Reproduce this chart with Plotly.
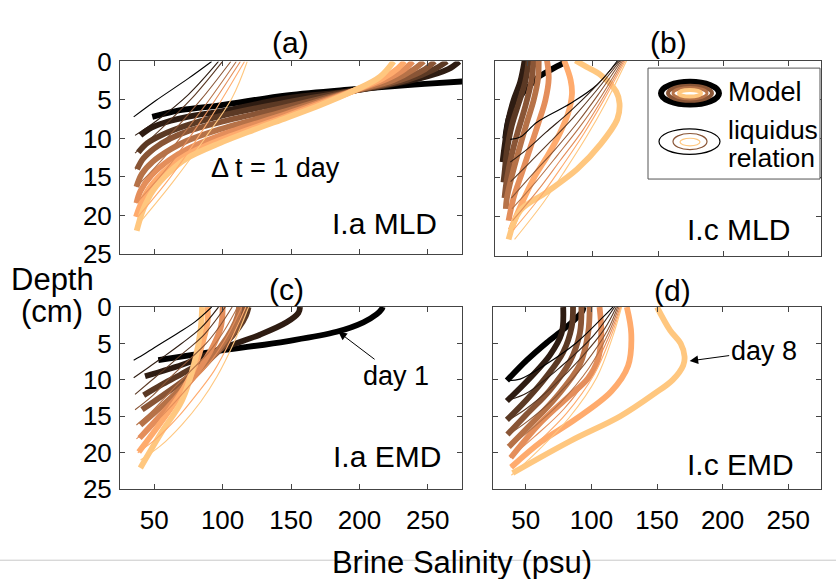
import plotly.graph_objects as go

# Brine salinity (psu) vs depth (cm) profiles, days 1..8
DAYS = [1, 2, 3, 4, 5, 6, 7, 8]
COPPER = ["#000000", "#2E1C12", "#5B3924", "#895536",
          "#B67248", "#E48E5B", "#FFAB6D", "#FFC77F"]

# ---- (a) I.a MLD ----
a_model_S = [
    [48.6, 70, 98, 147, 196, 240, 275, 290],
    [40, 48, 62, 80, 98, 147, 196, 244, 265, 273],
    [38.4, 45, 55, 74, 98, 147, 196, 235, 255, 264],
    [37.5, 42, 50, 62, 74, 98, 147, 196, 230, 248, 255],
    [37, 41, 49, 62, 74, 98, 147, 196, 225, 240, 247],
    [37, 40, 48, 61, 74, 98, 147, 196, 220, 233, 239],
    [36.7, 40, 47, 61, 74, 98, 147, 196, 217, 228, 233],
    [37.2, 42, 49.4, 61.5, 73.7, 98, 122.5, 147, 171, 196, 215, 225],
]
a_model_d = [
    [7.2, 6.3, 5.7, 4.4, 3.6, 3.0, 2.6, 2.4],
    [9.6, 8.6, 7.7, 7.0, 6.5, 4.8, 3.8, 2.2, 1.0, 0],
    [11.8, 10.6, 9.6, 8.3, 7.1, 5.3, 3.8, 2.4, 1.0, 0],
    [14.0, 12.6, 11.3, 10.0, 9.1, 7.9, 5.9, 3.8, 2.4, 1.0, 0],
    [16.3, 14.6, 13.0, 11.4, 10.3, 8.8, 6.4, 3.8, 2.4, 1.0, 0],
    [18.4, 16.8, 14.8, 12.8, 11.4, 9.6, 6.8, 3.8, 2.3, 1.0, 0],
    [20.2, 18.6, 16.3, 13.7, 12.1, 10.2, 7.1, 3.8, 2.2, 0.9, 0],
    [22.0, 19.2, 16.7, 14.3, 12.6, 10.6, 8.9, 7.3, 5.7, 3.8, 2.0, 0],
]
a_liq_S = [
    [35, 51, 75, 92],
    [36, 51, 75, 97],
    [36, 56, 80, 100],
    [36, 58, 84, 106],
    [37, 60, 86, 110],
    [37, 61, 87, 113],
    [38, 62, 87, 116],
    [41, 63, 87, 107, 118],
]
a_liq_d = [
    [7.2, 5.1, 2.2, 0],
    [9.6, 7.8, 4.3, 0],
    [11.9, 8.6, 4.3, 0],
    [14.0, 10.2, 5.0, 0],
    [16.3, 11.9, 6.0, 0],
    [18.4, 13.5, 7.0, 0],
    [20.2, 15.0, 8.5, 0],
    [20.6, 15.8, 10.0, 4.7, 0],
]

# ---- (b) I.c MLD ----
b_model_S = [
    [32.8, 35.4, 39.2, 45.6, 53.3, 58.5, 68.7, 77.7],
    [30.8, 32.8, 35.4, 39.2, 44.4, 47.7],
    [31.5, 32.3, 34.1, 37.9, 43.1, 48.2, 50.8],
    [32.3, 34.1, 37.9, 43.1, 48.2, 52.8, 54.6],
    [33.3, 34.1, 37.9, 43.1, 49.5, 54.6, 58, 58.5],
    [35.4, 39.2, 45.6, 52, 58.5, 63.6, 66.2, 64.9],
    [37, 45, 55, 66, 75, 81, 84, 83, 78],
    [35.4, 44.4, 65, 88, 106, 118.8, 120.5, 118, 106, 95, 86.7],
]
b_model_d = [
    [10.0, 7.5, 5.9, 4.3, 2.9, 2.1, 1.1, 0.3],
    [13.0, 10.4, 7.5, 5.1, 2.7, 0],
    [15.6, 14.4, 11.6, 8.3, 5.5, 2.7, 0],
    [17.6, 15.2, 12.0, 8.75, 5.9, 2.7, 0],
    [19.0, 17.6, 14.8, 11.6, 7.9, 5.1, 2.3, 0],
    [20.5, 17.6, 14.4, 11.2, 7.9, 5.1, 2.3, 0],
    [21.7, 18.5, 15.0, 12.0, 9.2, 6.8, 4.3, 2.5, 0],
    [22.9, 19.2, 16.8, 13.9, 10.7, 7.5, 5.5, 4.0, 1.85, 0.8, 0],
]
b_liq_S = [
    [36.7, 44.4, 57.2, 82.8, 103.3, 119],
    [36.7, 50, 64, 82, 100, 120],
    [37, 52, 68, 85, 102, 121],
    [37.5, 54, 71, 88, 104, 122],
    [38, 56, 73, 90, 106, 123],
    [38.5, 58, 75, 92, 107, 124],
    [39, 60, 77, 93, 108, 125],
    [40, 62, 79, 95, 110, 126],
]
b_liq_d = [
    [10.1, 9.8, 7.9, 5.5, 3.1, 0],
    [13.0, 11.3, 9.2, 6.6, 3.7, 0],
    [15.5, 13.0, 10.3, 7.3, 4.0, 0],
    [17.6, 14.5, 11.4, 8.0, 4.4, 0],
    [19.0, 15.6, 12.1, 8.5, 4.7, 0],
    [20.5, 16.6, 12.8, 9.0, 5.0, 0],
    [21.7, 17.4, 13.4, 9.4, 5.2, 0],
    [22.9, 18.2, 14.0, 9.8, 5.4, 0],
]

# ---- (c) I.a EMD ----
c_model_S = [
    [53, 98.1, 146.8, 183.4, 202.9, 212.6, 216.3, 217],
    [43.3, 73.7, 100.5, 127.3, 146.8, 155.4, 156.6],
    [42.3, 55, 70, 87, 102, 112, 117, 119],
    [41.1, 55, 70, 85, 100, 110, 115, 116],
    [39.9, 55, 70, 85, 98, 107, 111, 112],
    [39.3, 55, 70, 84, 94, 99, 100],
    [38.7, 55, 70, 80, 86, 89, 89],
    [39.9, 55.7, 70.4, 80.1, 84, 85],
]
c_model_d = [
    [7.3, 6.0, 4.7, 3.4, 2.1, 1.0, 0.3, 0],
    [9.5, 7.7, 5.6, 3.8, 2.1, 0.8, 0],
    [12.1, 10.7, 9.2, 7.3, 5.0, 2.8, 1.2, 0],
    [14.1, 12.3, 10.3, 8.1, 5.5, 3.0, 1.2, 0],
    [16.2, 13.7, 11.1, 8.4, 5.6, 3.0, 1.2, 0],
    [18.0, 14.8, 11.6, 8.2, 5.0, 2.5, 0],
    [19.9, 15.8, 11.7, 8.0, 4.5, 2.0, 0],
    [22.1, 17.1, 12.8, 7.1, 3.0, 0],
]
c_liq_S = [
    [35, 44, 55, 68, 80, 92],
    [35, 45, 57, 70, 84, 97],
    [36, 46, 58, 72, 86, 102],
    [36, 48, 60, 74, 88, 98, 107],
    [37, 49, 62, 76, 90, 101, 111],
    [37, 50, 64, 78, 92, 104, 114],
    [38, 52, 67, 81, 94, 106, 117],
    [40, 55, 70, 84, 96, 108, 119],
]
c_liq_d = [
    [7.3, 6.3, 5.0, 3.5, 2.0, 0],
    [9.7, 8.4, 6.8, 5.0, 2.9, 0],
    [12.0, 10.4, 8.5, 6.2, 3.9, 0],
    [14.1, 12.3, 10.0, 7.5, 5.0, 2.6, 0],
    [16.2, 14.2, 11.6, 8.9, 6.2, 3.3, 0],
    [18.1, 16.0, 13.3, 10.3, 7.3, 3.8, 0],
    [20.0, 18.0, 15.2, 12.0, 8.7, 4.5, 0],
    [21.0, 19.0, 16.2, 13.0, 9.5, 5.0, 0],
]

# ---- (d) I.c EMD ----
d_model_S = [
    [35.6, 50.8, 65.9, 78.5, 88, 93, 94],
    [35.6, 53.4, 68.4, 77.3, 78.5],
    [35.6, 50.8, 65.9, 78.5, 85, 86],
    [36, 50.8, 68.4, 83.6, 91.2, 92.4],
    [37, 53.3, 73.5, 91.2, 97.5, 98.7],
    [38.5, 61.7, 82, 97.3, 105, 107.5, 106.2],
    [38.8, 61.7, 87.1, 115.1, 127.9, 130.4, 127],
    [40, 84, 122, 148, 162, 170, 171, 168, 160, 150],
]
d_model_d = [
    [10.1, 7.3, 4.9, 3.1, 1.6, 0.6, 0],
    [12.9, 9.7, 6.6, 3.6, 0],
    [15.5, 12.7, 9.5, 6.2, 2.7, 0],
    [17.5, 14.7, 11.4, 7.5, 3.6, 0],
    [19.2, 16.2, 12.3, 7.9, 3.6, 0],
    [20.7, 15.8, 12.4, 9.8, 7.2, 3.7, 0],
    [22.0, 18.5, 15.5, 11.6, 8.1, 3.7, 0],
    [22.8, 18.4, 15.0, 11.9, 10.0, 8.0, 6.8, 5.0, 3.2, 0],
]
d_liq_S = [
    [36.9, 45.7, 63.4, 88.6, 108.8, 116.4],
    [38.1, 50.8, 76, 101.3, 117.7],
    [37, 50, 70, 92, 110, 119],
    [37, 52, 73, 95, 112, 120],
    [37.5, 54, 76, 98, 113, 121],
    [38, 56, 79, 100, 114, 122],
    [38.5, 58, 81, 102, 115, 122.5],
    [39, 60, 83, 104, 116, 123],
]
d_liq_d = [
    [10.1, 9.9, 8.1, 4.9, 1.4, 0],
    [12.7, 11.8, 8.3, 4.0, 0],
    [15.5, 14.0, 11.0, 7.0, 3.0, 0],
    [17.5, 15.6, 12.3, 7.8, 3.3, 0],
    [19.2, 16.8, 13.2, 8.4, 3.6, 0],
    [20.7, 17.9, 14.0, 8.9, 3.8, 0],
    [22.0, 18.8, 14.6, 9.3, 4.0, 0],
    [23.1, 19.6, 15.2, 9.7, 4.2, 0],
]

PANELS = [
    ("x", "y", a_model_S, a_model_d, a_liq_S, a_liq_d),
    ("x2", "y2", b_model_S, b_model_d, b_liq_S, b_liq_d),
    ("x3", "y3", c_model_S, c_model_d, c_liq_S, c_liq_d),
    ("x4", "y4", d_model_S, d_model_d, d_liq_S, d_liq_d),
]

SAL_TICKS = [50, 100, 150, 200, 250]
DEPTH_TICKS = [0, 5, 10, 15, 20, 25]

W, H = 836, 579
FONT = "Liberation Sans, Arial, Helvetica, sans-serif"


def fx(px):
    return px / W


def fy(py):
    return 1 - py / H


fig = go.Figure()

for xa, ya, mS, md, lS, ld in PANELS:
    for i in range(len(DAYS)):
        fig.add_trace(go.Scatter(
            x=mS[i], y=md[i], mode="lines", xaxis=xa, yaxis=ya,
            line=dict(color=COPPER[i], width=5.8, shape="spline", smoothing=1.0),
            hoverinfo="skip", showlegend=False))
    for i in range(len(DAYS)):
        fig.add_trace(go.Scatter(
            x=lS[i], y=ld[i], mode="lines", xaxis=xa, yaxis=ya,
            line=dict(color=COPPER[i], width=1.1, shape="spline", smoothing=1.0),
            hoverinfo="skip", showlegend=False))

# panel placement (pixels: left, right, top, bottom)
BOXES = {
    "": (120, 462, 49, 252),
    "2": (495, 821, 48, 254),
    "3": (120, 462, 308, 500),
    "4": (493, 821, 308, 500),
}

layout = dict(
    width=W, height=H,
    margin=dict(l=0, r=0, t=0, b=0),
    paper_bgcolor="white", plot_bgcolor="white",
    showlegend=False,
    font=dict(family=FONT, color="black"),
    # shared x-axis label, centred under both bottom panels
    title=dict(text="Brine Salinity (psu)", x=fx(462), xref="container",
               xanchor="center", y=1 - 562 / H, yref="container",
               yanchor="middle", font=dict(size=31, family=FONT, color="black")),
)
for k, (l, r, t, b) in BOXES.items():
    common = dict(showgrid=False, zeroline=False, ticks="inside", ticklen=5,
                  tickcolor="#444", linecolor="#444", linewidth=1, mirror="ticks",
                  tickfont=dict(size=26, family=FONT, color="black"))
    layout["xaxis" + k] = dict(
        domain=[fx(l), fx(r)], range=[25, 275], tickvals=SAL_TICKS,
        showticklabels=(k in ("3", "4")), anchor="y" + k,
        ticklabelstandoff=8, **common)
    layout["yaxis" + k] = dict(
        domain=[fy(b), fy(t)], range=[25, 0], tickvals=DEPTH_TICKS,
        showticklabels=(k in ("", "3")), anchor="x" + k,
        ticklabelstandoff=2, **common)
fig.update_layout(**layout)

ann = []


def ptext(txt, px, py, size, xanchor="center", yanchor="middle"):
    ann.append(dict(text=txt, x=fx(px), y=fy(py), xref="paper", yref="paper",
                    showarrow=False, xanchor=xanchor, yanchor=yanchor,
                    font=dict(size=size, family=FONT, color="black")))


ptext("(a)", 290, 29, 30)
ptext("(b)", 668, 29, 30)
ptext("(c)", 286, 290, 30)
ptext("(d)", 672, 291, 30)
ptext("Depth", 52, 279, 31)
ptext("(cm)", 52, 313, 31)

# labels inside panels (data coordinates)
for txt, xr, yr, sx, sy, size in [
    ("I.a MLD", "x", "y", 218.7, 21.1, 30),
    ("I.c MLD", "x2", "y2", 212, 21.6, 30),
    ("I.a EMD", "x3", "y3", 220.5, 20.5, 30),
    ("I.c EMD", "x4", "y4", 213.6, 21.6, 30),
    ("\u0394 t = 1 day", "x", "y", 139, 13.8, 27),
]:
    ann.append(dict(text=txt, x=sx, y=sy, xref=xr, yref=yr, showarrow=False,
                    font=dict(size=size, family=FONT, color="black")))

# arrows pointing at the first and last day profiles
ann.append(dict(text="day 1", x=184.6, y=3.4, xref="x3", yref="y3",
                ax=58, ay=44, showarrow=True, arrowhead=2, arrowsize=1.7,
                arrowwidth=1, arrowcolor="black",
                font=dict(size=27, family=FONT, color="black")))
ann.append(dict(text="day 8", x=174.9, y=7.4, xref="x4", yref="y4",
                ax=74, ay=-10, showarrow=True, arrowhead=2, arrowsize=1.7,
                arrowwidth=1, arrowcolor="black",
                font=dict(size=27, family=FONT, color="black")))

# legend entries
ptext("Model", 726, 81, 27, xanchor="left")
ptext("liquidus", 726, 121, 26.5, xanchor="left")
ptext("relation", 726, 151, 26.5, xanchor="left")

shapes = [
    dict(type="rect", xref="paper", yref="paper",
         x0=fx(648), x1=fx(820), y0=fy(173), y1=fy(56),
         line=dict(color="#555", width=1), fillcolor="white", layer="above"),
    dict(type="line", xref="paper", yref="paper",
         x0=fx(0), x1=fx(836), y0=fy(575), y1=fy(575),
         line=dict(color="#c8c8c8", width=1)),
]


def ell(x0, x1, y0, y1, color, width):
    shapes.append(dict(type="circle", xref="paper", yref="paper",
                       x0=fx(x0), x1=fx(x1), y0=fy(y1), y1=fy(y0),
                       line=dict(color=color, width=width), layer="above"))


ell(661, 719, 70.5, 94.5, COPPER[0], 6)
ell(668, 712, 74.5, 90.5, COPPER[3], 4)
ell(673, 707, 76.5, 88.5, COPPER[4], 3)
ell(679, 701, 79, 86, COPPER[7], 4)
ell(659, 720, 120, 147, COPPER[0], 1.2)
ell(673, 707, 125, 142, COPPER[3], 1.2)
ell(680, 700, 130, 138, COPPER[7], 1.2)

fig.update_layout(annotations=ann, shapes=shapes)
fig.write_html("out.html")
